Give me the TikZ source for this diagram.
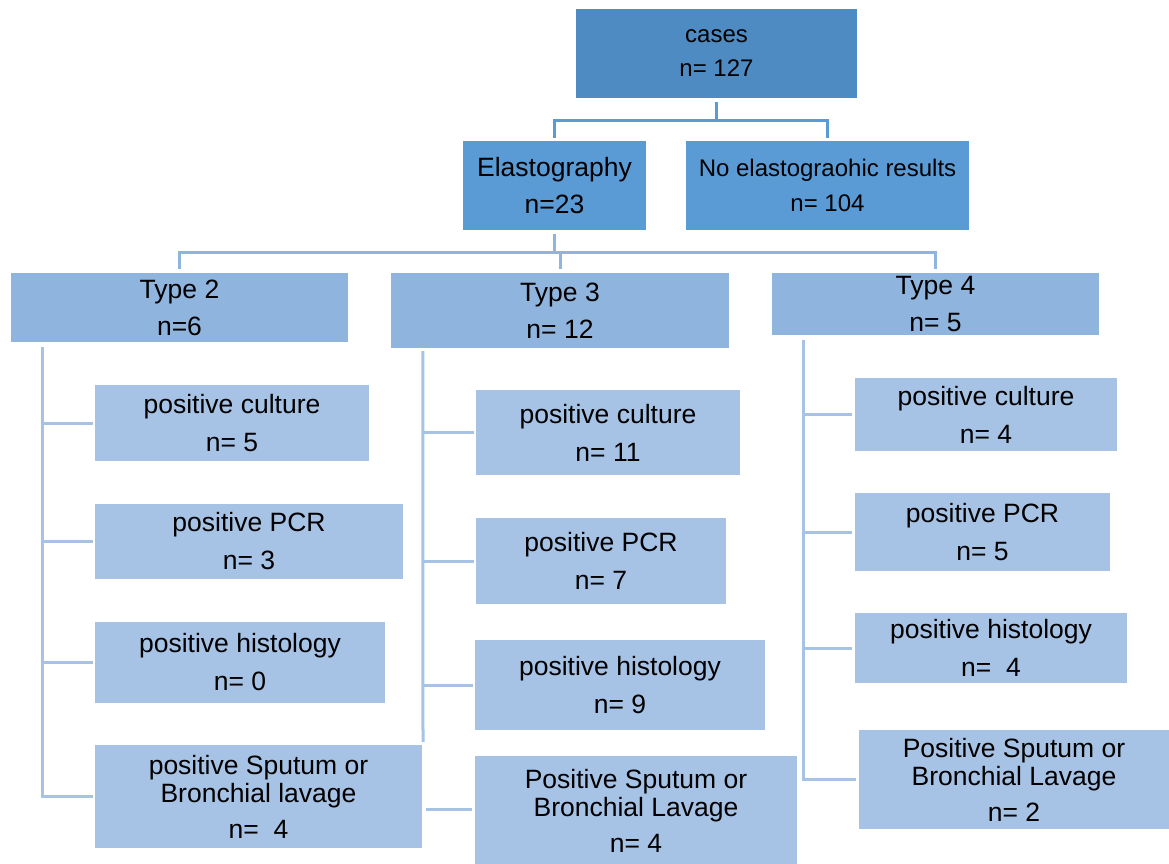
\documentclass[tikz,border=0pt]{standalone}
\usepackage{fontspec}
\setmainfont{Liberation Sans}

\definecolor{rootblue}{HTML}{4F8BC3}
\definecolor{midblue}{HTML}{5B9BD5}
\definecolor{typeblue}{HTML}{8FB4DE}
\definecolor{leafblue}{HTML}{A6C2E5}
\definecolor{linkA}{HTML}{5B9BD5}
\definecolor{linkB}{HTML}{8FB4DE}
\definecolor{linkC}{HTML}{A6C2E5}

\begin{document}
\begin{tikzpicture}[x=1pt,y=-1pt,
  box/.style={rectangle, inner sep=0pt, align=center,
    font=\fontsize{26.5}{28}\selectfont},
  size/.style 2 args={minimum width=#1pt, minimum height=#2pt},
  rootbox/.style={box, fill=rootblue, font=\fontsize{24}{26}\selectfont},
  midbox/.style={box, fill=midblue},
  typebox/.style={box, fill=typeblue},
  leafbox/.style={box, fill=leafblue},
  conn/.style={line width=3pt},
  connA/.style={conn, draw=linkA},
  connB/.style={conn, draw=linkB},
  connC/.style={conn, draw=linkC}
]
\useasboundingbox (0,0) rectangle (1169,864);

% top levels
\node[rootbox, size={281}{89}] (cases) at (716.5,53.5) {cases\\[8pt]n= 127};
\node[midbox, size={183}{89}] (elasto) at (554.5,185.5) {Elastography\\[9pt]n=23};
\node[midbox, size={283}{89}, font=\fontsize{24}{26}\selectfont] (noelasto) at (827.5,185.5)
  {No elastograohic results\\[9pt]n= 104};

% types
\node[typebox, size={337}{69}] (type2) at (179.5,307.5) {Type 2\\[9pt]n=6};
\node[typebox, size={338}{75}] (type3) at (560,310.5) {Type 3\\[9pt]n= 12};
\node[typebox, size={327}{62}] (type4) at (935.5,304) {Type 4\\[9pt]n= 5};

% type 2 results
\node[leafbox, size={274}{76}] (c2a) at (232,423) {positive culture\\[10pt]n= 5};
\node[leafbox, size={308}{75}] (c2b) at (249,541.5) {positive PCR\\[10pt]n= 3};
\node[leafbox, size={290}{81}] (c2c) at (240,662.5) {positive histology\\[10pt]n= 0};
\node[leafbox, size={327}{103}] (c2d) at (258.5,796.5)
  {positive Sputum or\\Bronchial lavage\\[8pt]n=\ \ 4};

% type 3 results
\node[leafbox, size={264}{85}] (c3a) at (608,432.5) {positive culture\\[10pt]n= 11};
\node[leafbox, size={250}{86}] (c3b) at (601,561) {positive PCR\\[10pt]n= 7};
\node[leafbox, size={290}{90}] (c3c) at (620,685) {positive histology\\[10pt]n= 9};
\node[leafbox, size={322}{109}] (c3d) at (636,810.5)
  {Positive Sputum or\\Bronchial Lavage\\[8pt]n= 4};

% type 4 results
\node[leafbox, size={262}{73}] (c4a) at (986,414.5) {positive culture\\[10pt]n= 4};
\node[leafbox, size={255}{78}] (c4b) at (982.5,532) {positive PCR\\[10pt]n= 5};
\node[leafbox, size={272}{70}] (c4c) at (991,648) {positive histology\\[10pt]n=\ \ 4};
\node[leafbox, size={310}{99}] (c4d) at (1014,779.5)
  {Positive Sputum or\\Bronchial Lavage\\[8pt]n= 2};

% cases -> elastography split
\draw[connA] ([yshift=-4pt]cases.south) -- ([yshift=-22pt]cases.south) -| ([yshift=3pt]elasto.north);
\draw[connA] ([yshift=-22pt]cases.south) -| ([yshift=3pt]noelasto.north);

% elastography -> types
\draw[connB] ([yshift=-4pt]elasto.south) -- ([yshift=-22pt]elasto.south) -| ([yshift=4pt]type2.north);
\draw[connB] ([yshift=-22pt]elasto.south) -| ([yshift=4pt]type3.north);
\draw[connB] ([yshift=-22pt]elasto.south) -| ([yshift=4pt]type4.north);

% type 2 branch
\foreach \leaf in {c2a,c2b,c2c,c2d}
  \draw[connC] ([xshift=32pt,yshift=-5pt]type2.south west) |- ([xshift=-2pt]\leaf.west);

% type 3 branch
\coordinate (t3end) at (423,742);
\draw[connC] ([xshift=32pt,yshift=-3pt]type3.south west) -- (t3end);
\foreach \leaf in {c3a,c3b,c3c}
  \draw[connC] ([xshift=-2pt]\leaf.west) -- (\leaf.west -| t3end);
\draw[connC] ([xshift=-3pt,yshift=1.5pt]c3d.west) -- ([xshift=4pt,yshift=1.5pt]c3d.west -| c2d.east);

% type 4 branch
\foreach \leaf in {c4a,c4b,c4c,c4d}
  \draw[connC] ([xshift=32pt,yshift=-5pt]type4.south west) |- ([xshift=-3pt]\leaf.west);
\end{tikzpicture}
\end{document}
